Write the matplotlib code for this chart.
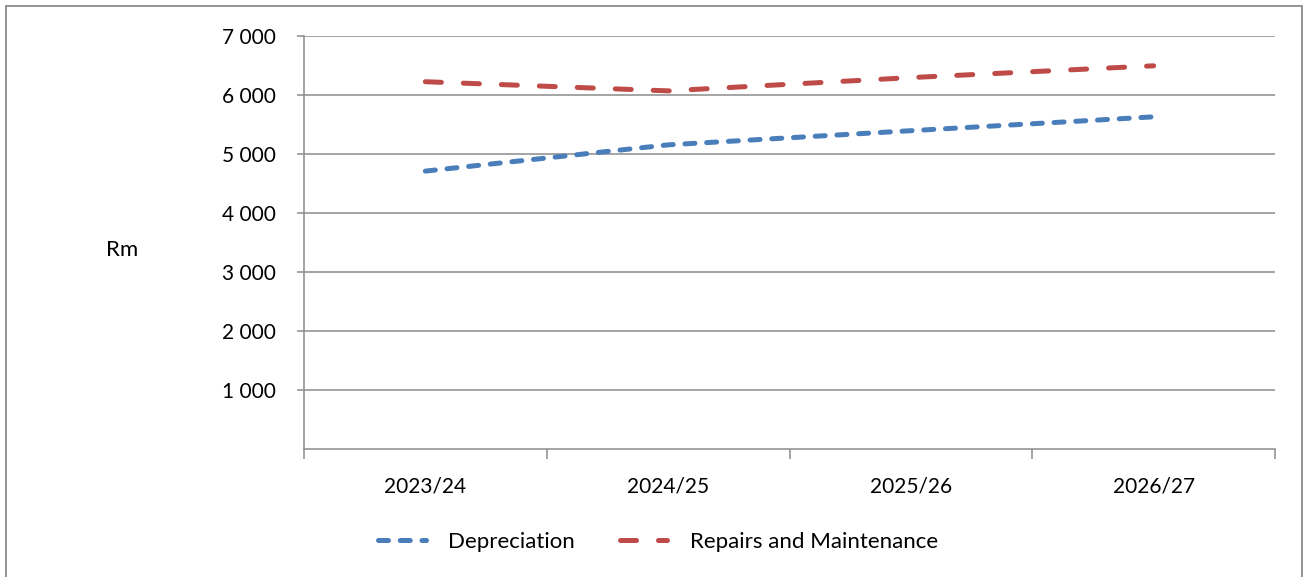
import matplotlib
matplotlib.use("Agg")
import matplotlib.pyplot as plt
from matplotlib.patches import Rectangle
from matplotlib.ticker import FixedLocator, FuncFormatter

# Data (Rm)
years = ["2023/24", "2024/25", "2025/26", "2026/27"]
depreciation = [4710, 5155, 5395, 5630]
repairs_maintenance = [6225, 6070, 6295, 6495]
y_ticks = [1000, 2000, 3000, 4000, 5000, 6000, 7000]

W, H, DPI = 1304, 577, 100
plt.rcParams["font.family"] = ["Lato", "DejaVu Sans"]
FS = 15
FS_LEG = 16

fig = plt.figure(figsize=(W / DPI, H / DPI), dpi=DPI)
fig.patch.set_facecolor("white")

# outer chart border
fig.add_artist(Rectangle((6 / W, -0.05), (1302 - 6) / W, 1.05 - 6.5 / H,
                         transform=fig.transFigure, fill=False,
                         edgecolor="#8a8a8a", linewidth=1.3))

ax = fig.add_axes([304 / W, 1 - 449 / H, (1275 - 304) / W, (449 - 36) / H])
grid_c = "#8c8c8c"

x = list(range(len(years)))
blue = "#4a7ebb"
red = "#be4b48"
lw = 3.6
l1, = ax.plot(x, depreciation, color=blue, lw=lw, dash_capstyle="round",
              dashes=(2.0, 2.35), label="Depreciation")
l2, = ax.plot(x, repairs_maintenance, color=red, lw=lw, dash_capstyle="round",
              dashes=(3.2, 4.4), label="Repairs and Maintenance")

ax.set_xlim(-0.5, len(years) - 0.5)
ax.set_ylim(0, 7000)

ax.yaxis.set_major_locator(FixedLocator(y_ticks))
ax.yaxis.set_major_formatter(FuncFormatter(lambda v, p: f"{int(v):,}".replace(",", " ")))
ax.grid(axis="y", color=grid_c, linewidth=1.1)
ax.set_axisbelow(True)

# category boundaries as major ticks, labels at centres as minor ticks
ax.xaxis.set_major_locator(FixedLocator([i - 0.5 for i in range(len(years) + 1)]))
ax.xaxis.set_major_formatter(FuncFormatter(lambda v, p: ""))
ax.set_xticks(x, minor=True)
ax.set_xticklabels(years, minor=True)
ax.tick_params(axis="x", which="major", length=7.5, width=1.1, color=grid_c)
ax.tick_params(axis="x", which="minor", length=0, pad=20, labelsize=FS)
ax.tick_params(axis="y", length=5, width=1.1, color=grid_c, pad=15, labelsize=FS)

for s in ("top", "right"):
    ax.spines[s].set_visible(False)
for s in ("left", "bottom"):
    ax.spines[s].set_color(grid_c)
    ax.spines[s].set_linewidth(1.1)

fig.text(122 / W, 1 - 250 / H, "Rm", fontsize=FS_LEG, ha="center", va="center")

fig.legend(handles=[l1, l2], loc="center", bbox_to_anchor=(658 / W, 1 - 542 / H),
           ncol=2, frameon=False, fontsize=FS_LEG, handlelength=2.15,
           handletextpad=1.0, columnspacing=2.0)

fig.savefig("out.png", dpi=DPI)
